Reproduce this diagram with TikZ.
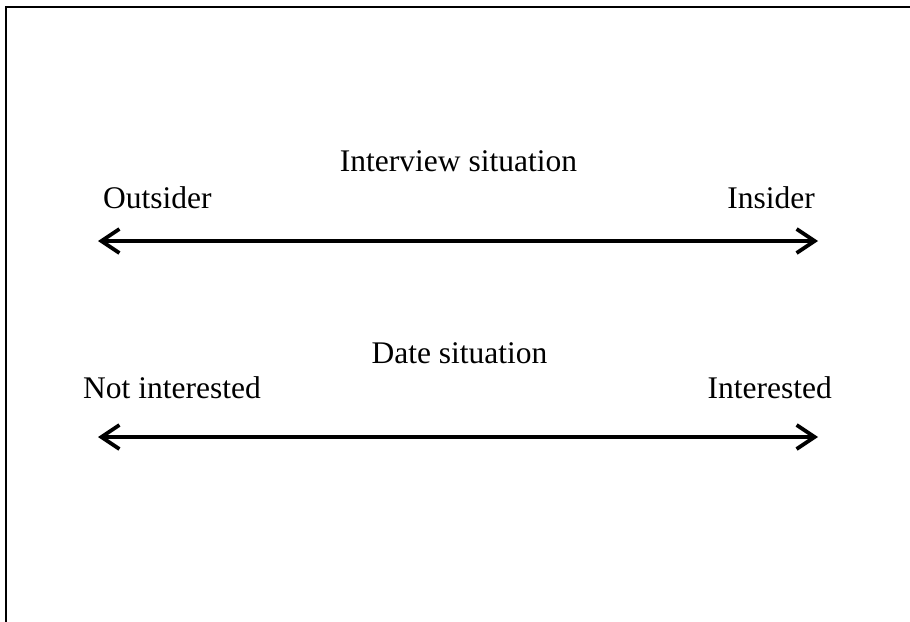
\documentclass[tikz,border=0pt]{standalone}
\usepackage{fontspec}
\setmainfont{Liberation Serif}
\usetikzlibrary{arrows.meta}
\begin{document}
\begin{tikzpicture}[x=1pt,y=-1pt,
  lbl/.style={inner sep=0pt,font=\fontsize{31.5}{38}\selectfont},
  scalearrow/.style={line width=3.8pt,{Straight Barb[length=18pt,width=24pt]}-{Straight Barb[length=18pt,width=24pt]}},
  framestyle/.style={line width=2pt}]
\useasboundingbox (0,0) rectangle (910,621);
\fill[white] (-2,-2) rectangle (912,623);
\coordinate (fo) at (5.5,6.5);
\coordinate (ft) at (911,6.5);
\coordinate (fb) at (5.5,622);
\draw[framestyle] (fb) -- (fo) -- (ft);
% top scale
\node[lbl,anchor=base] (t1) at (458.5,171) {Interview situation};
\node[lbl,anchor=base west] (o1) at (103,208) {Outsider};
\node[lbl,anchor=base east] (i1) at (815,208) {Insider};
\coordinate (al) at (98,241);
\coordinate (ar) at (818,241);
\draw[scalearrow] (al) -- (ar);
% bottom scale
\node[lbl,anchor=base] (t2) at (459.5,363) {Date situation};
\node[lbl,anchor=base west] (n2) at (83,398) {Not interested};
\node[lbl,anchor=base east] (i2) at (832,398) {Interested};
\coordinate (bl) at (98,437);
\coordinate (br) at (818,437);
\draw[scalearrow] (bl) -- (br);
\end{tikzpicture}
\end{document}
